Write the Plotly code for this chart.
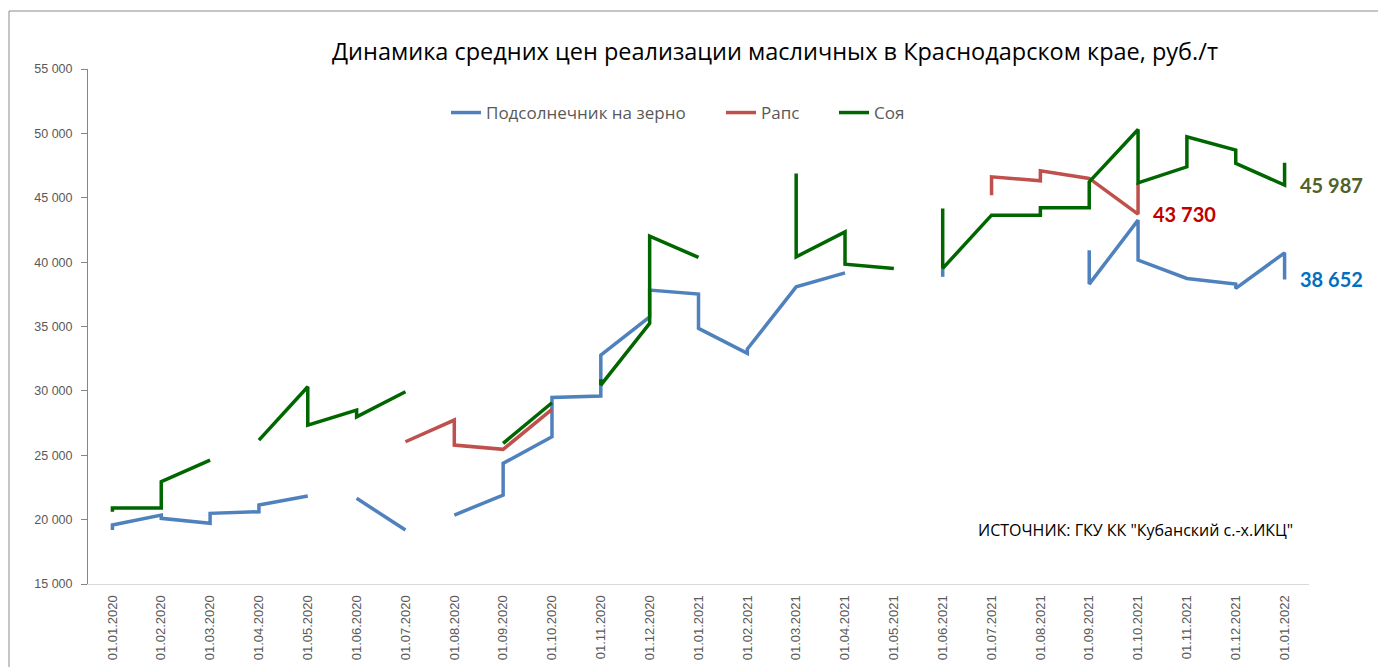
import plotly.graph_objects as go

months = ["01.01.2020", "01.02.2020", "01.03.2020", "01.04.2020", "01.05.2020",
          "01.06.2020", "01.07.2020", "01.08.2020", "01.09.2020", "01.10.2020",
          "01.11.2020", "01.12.2020", "01.01.2021", "01.02.2021", "01.03.2021",
          "01.04.2021", "01.05.2021", "01.06.2021", "01.07.2021", "01.08.2021",
          "01.09.2021", "01.10.2021", "01.11.2021", "01.12.2021", "01.01.2022"]

# Подсолнечник на зерно (several observations per month; None = gap)
sun_x = ["01.01.2020", "01.01.2020", "01.02.2020", "01.02.2020", "01.03.2020", "01.03.2020",
         "01.04.2020", "01.04.2020", "01.05.2020", "01.05.2020",
         "01.06.2020", "01.07.2020", "01.07.2020",
         "01.08.2020", "01.09.2020", "01.09.2020", "01.10.2020", "01.10.2020",
         "01.11.2020", "01.11.2020", "01.12.2020", "01.12.2020", "01.01.2021", "01.01.2021",
         "01.02.2021", "01.02.2021", "01.03.2021", "01.04.2021", "01.04.2021",
         "01.06.2021", "01.06.2021", "01.06.2021",
         "01.09.2021", "01.09.2021", "01.10.2021", "01.10.2021", "01.11.2021",
         "01.12.2021", "01.12.2021", "01.01.2022", "01.01.2022"]
sun_y = [19193, 19581, 20357, 20101, 19713, 20489,
         20613, 21134, 21832, None,
         21654, 19193, None,
         20357, 21910, 24371, 26436, 29495,
         29596, 32780, 35753, 37826, 37516, 34853,
         32911, 33250, 38082, 39170, None,
         38859, 39500, None,
         40932, 38292, 43261, 40155, 38734,
         38292, 37958, 40722, 38652]

# Рапс
rape_x = ["01.07.2020", "01.08.2020", "01.08.2020", "01.09.2020", "01.10.2020", "01.10.2020",
          "01.07.2021", "01.07.2021", "01.08.2021", "01.08.2021", "01.09.2021",
          "01.10.2021", "01.10.2021"]
rape_y = [26048, 27733, 25792, 25458, 28563, None,
          45202, 46623, 46312, 47088, 46498,
          43730, 46150]

# Соя
soy_x = ["01.01.2020", "01.01.2020", "01.02.2020", "01.02.2020", "01.03.2020", "01.03.2020",
         "01.04.2020", "01.05.2020", "01.05.2020", "01.06.2020", "01.06.2020", "01.07.2020", "01.07.2020",
         "01.09.2020", "01.10.2020", "01.10.2020",
         "01.11.2020", "01.11.2020", "01.12.2020", "01.12.2020", "01.01.2021", "01.01.2021",
         "01.03.2021", "01.03.2021", "01.04.2021", "01.04.2021", "01.05.2021", "01.05.2021",
         "01.06.2021", "01.06.2021", "01.07.2021", "01.08.2021", "01.08.2021",
         "01.09.2021", "01.09.2021", "01.10.2021", "01.10.2021", "01.11.2021", "01.11.2021",
         "01.12.2021", "01.12.2021", "01.01.2022", "01.01.2022"]
soy_y = [20613, 20900, 20900, 22943, 24627, None,
         26180, 30318, 27345, 28509, 27989, 29930, None,
         25924, 29076, None,
         30900, 30450, 35241, 42019, 40365, None,
         46887, 40412, 42353, 39845, 39511, None,
         44169, 39511, 43649, 43649, 44216,
         44216, 46235, 50303, 46157, 47400, 49728,
         48696, 47663, 45987, 47711]

series_names = ["Подсолнечник на зерно", "Рапс", "Соя"]
series_colors = ["#4F81BD", "#C0504D", "#006600"]

end_labels = [("01.10.2021", 43730, "43 730", "#C00000"),
              ("01.01.2022", 45987, "45 987", "#4F6228"),
              ("01.01.2022", 38652, "38 652", "#0070C0")]

# page has an 8px body margin; work in page pixels and convert
OFF = 8
W, H = 1386 - OFF, 667 - OFF
PLOT_L, PLOT_R, PLOT_T, PLOT_B = 88, 1309, 69, 584   # page pixels
L = PLOT_L - OFF
T = PLOT_T - OFF
R = W - (PLOT_R - OFF)
B = H - (PLOT_B - OFF)
pw = PLOT_R - PLOT_L
ph = PLOT_B - PLOT_T


def px_x(p):
    return (p - PLOT_L) / pw


def px_y(p):
    return (PLOT_B - p) / ph


fig = go.Figure()
data = [(sun_x, sun_y), (rape_x, rape_y), (soy_x, soy_y)]
legends = ["legend", "legend2", "legend3"]
for (xs, ys), name, col, lg in zip(data, series_names, series_colors, legends):
    fig.add_trace(go.Scatter(x=xs, y=ys, mode="lines", name=name,
                             line=dict(color=col, width=3.5),
                             connectgaps=False, legend=lg, showlegend=True))

for cat, val, txt, col in end_labels:
    fig.add_annotation(x=cat, y=val, xref="x", yref="y", text="<b>" + txt + "</b>",
                       showarrow=False, xanchor="left", yanchor="middle", xshift=13,
                       font=dict(family="Lato", size=20, color=col))

fig.add_annotation(x=px_x(976), y=px_y(530), xref="paper", yref="paper",
                   text='ИСТОЧНИК: ГКУ КК "Кубанский с.-х.ИКЦ"', showarrow=False,
                   xanchor="left", yanchor="middle",
                   font=dict(family="Open Sans", size=16, color="#000000"))

fig.add_shape(type="rect", xref="paper", yref="paper",
              x0=px_x(9), x1=px_x(1383), y0=px_y(700), y1=px_y(11),
              line=dict(color="#8C8C8C", width=1), fillcolor="rgba(0,0,0,0)", layer="below")

leg_common = dict(orientation="h", yanchor="middle", xanchor="left", bgcolor="rgba(0,0,0,0)",
                  font=dict(family="Open Sans", size=17, color="#595959"), itemwidth=30)
fig.update_layout(
    width=W, height=H,
    margin=dict(l=L, r=R, t=T, b=B),
    paper_bgcolor="white", plot_bgcolor="white",
    separators=", ",
    showlegend=True,
    title=dict(text="Динамика средних цен реализации масличных в Краснодарском крае, руб./т",
               x=px_x(775), xref="paper", xanchor="center",
               y=1 - (52 - OFF) / H, yanchor="middle",
               font=dict(family="Open Sans", size=23.5, color="#000000")),
    legend=dict(x=px_x(452 - 6), y=px_y(113), **leg_common),
    legend2=dict(x=px_x(727 - 6), y=px_y(113), **leg_common),
    legend3=dict(x=px_x(840 - 6), y=px_y(113), **leg_common),
    xaxis=dict(type="category", categoryorder="array", categoryarray=months,
               tickmode="array", tickvals=months, ticktext=months,
               range=[-0.5, len(months) - 0.5], tickangle=-90,
               showline=True, linecolor="#D9D9D9", linewidth=1, ticks="",
               ticklabelstandoff=5,
               showgrid=False, zeroline=False, automargin=False,
               tickfont=dict(family="Liberation Sans", size=13, color="#595959")),
    yaxis=dict(range=[15000, 55000], dtick=5000, tick0=15000, tickformat=",.0f",
               showline=True, linecolor="#868686", linewidth=1,
               ticks="outside", ticklen=6, tickcolor="#868686",
               ticklabelstandoff=6,
               showgrid=False, zeroline=False, automargin=False,
               tickfont=dict(family="Liberation Sans", size=12.5, color="#595959")),
)

fig.write_html("out.html")
